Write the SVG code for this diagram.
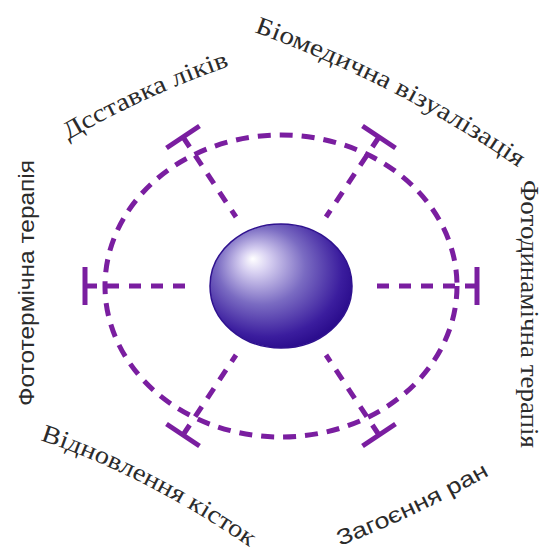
<svg xmlns="http://www.w3.org/2000/svg" width="545" height="552" viewBox="0 0 545 552">
<style>
.ring{fill:none;stroke:#7a1ea0;stroke-width:5;stroke-dasharray:13 9}
.spoke{fill:none;stroke:#7a1ea0;stroke-width:5;stroke-dasharray:12 10}
.bar{fill:none;stroke:#7a1ea0;stroke-width:5}
.lbl{font-family:"Liberation Serif","Times New Roman",serif;font-size:25px;fill:#2b2b2b}
.lbls{font-family:"Liberation Sans",Arial,sans-serif;font-size:22px;fill:#2b2b2b}
</style>
<defs>
<radialGradient id="sph" cx="0.42" cy="0.4" r="0.62" fx="0.3" fy="0.28">
<stop offset="0" stop-color="#ffffff"/>
<stop offset="0.15" stop-color="#d9d2f2"/>
<stop offset="0.5" stop-color="#7a6bc2"/>
<stop offset="0.85" stop-color="#3b1d9e"/>
<stop offset="1" stop-color="#2a0c8c"/>
</radialGradient>
<path id="p1" d="M68,140 Q145,95 236,64"/>
<path id="p2" d="M254,32 Q400,85 522,170"/>
<path id="p5" d="M40,440 Q145,475 254,550"/>
<path id="p6" d="M340,546 Q420,515 502,468"/>
</defs>
<rect width="545" height="552" fill="#ffffff"/>
<g id="connectors">
<ellipse class="ring" cx="281" cy="286" rx="176" ry="151"/>
<line class="spoke" x1="85" y1="286" x2="191" y2="286"/>
<line class="spoke" x1="477" y1="286" x2="371" y2="286"/>
<line class="spoke" x1="183" y1="137" x2="236" y2="217"/>
<line class="spoke" x1="379" y1="137" x2="326" y2="217"/>
<line class="spoke" x1="183" y1="435" x2="236" y2="355"/>
<line class="spoke" x1="379" y1="435" x2="326" y2="355"/>
<line class="bar" x1="85" y1="267" x2="85" y2="305"/>
<line class="bar" x1="477" y1="267" x2="477" y2="305"/>
<line class="bar" x1="166.5" y1="148" x2="199.5" y2="126"/>
<line class="bar" x1="362.5" y1="126" x2="395.5" y2="148"/>
<line class="bar" x1="166.5" y1="424" x2="199.5" y2="446"/>
<line class="bar" x1="362.5" y1="446" x2="395.5" y2="424"/>
</g>
<g id="center">
<ellipse cx="281" cy="286" rx="71" ry="62" fill="url(#sph)" stroke="#2f128f" stroke-width="1.5"/>
</g>
<g id="label-drug">
<text class="lbl"><textPath href="#p1" textLength="178" lengthAdjust="spacingAndGlyphs">Дсставка ліків</textPath></text>
</g>
<g id="label-imaging">
<text class="lbl"><textPath href="#p2" textLength="298" lengthAdjust="spacingAndGlyphs">Біомедична візуалізація</textPath></text>
</g>
<g id="label-pdt">
<text class="lbl" transform="translate(521,180) rotate(90)" textLength="268" lengthAdjust="spacingAndGlyphs">Фотодинамічна терапія</text>
</g>
<g id="label-ptt">
<text class="lbls" transform="translate(34,406) rotate(-90)" textLength="246" lengthAdjust="spacingAndGlyphs">Фототермічна терапія</text>
</g>
<g id="label-bone">
<text class="lbl"><textPath href="#p5" textLength="236" lengthAdjust="spacingAndGlyphs">Відновлення кісток</textPath></text>
</g>
<g id="label-wound">
<text class="lbls"><textPath href="#p6" textLength="166" lengthAdjust="spacingAndGlyphs">Загоєння ран</textPath></text>
</g>
</svg>
